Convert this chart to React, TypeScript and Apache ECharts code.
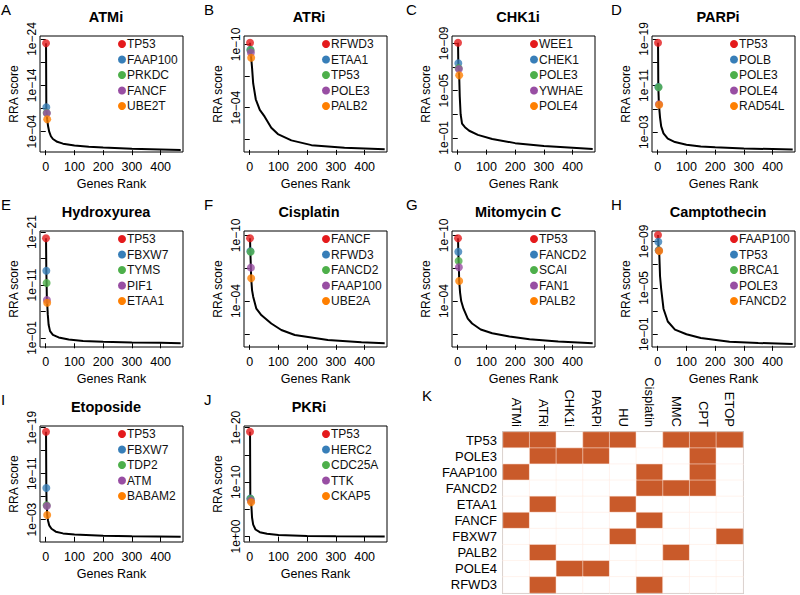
import React, { useEffect, useRef } from "react";
import * as echarts from "echarts";

const SET1 = ["#E41A1C", "#377EB8", "#4DAF4A", "#984EA3", "#FF7F00"];
const FONT = "'Liberation Sans', Arial, Helvetica, sans-serif";

// ---------- A ATMi ----------
const atmiGenes = ["TP53", "FAAP100", "PRKDC", "FANCF", "UBE2T"];
const atmiGeneRanks = [1, 2, 3, 4, 5];
const atmiGeneLog10 = [-23.1, -9.27, -8.05, -7.97, -6.68];
const atmiCurveRanks = [1, 2, 3, 4, 5, 8, 12, 18, 25, 40, 60, 100, 150, 200, 300, 400, 470];
const atmiCurveLog10 = [-23.1, -9.27, -8.05, -7.97, -6.68, -5.2, -4.0, -3.0, -2.4, -1.8, -1.4, -1.0, -0.75, -0.55, -0.3, -0.15, -0.05];
const atmiTicks = [-24, -19, -14, -9, -4];
const atmiLabels = [-24, -14, -4];

// ---------- B ATRi ----------
const atriGenes = ["RFWD3", "ETAA1", "TP53", "POLE3", "PALB2"];
const atriGeneRanks = [1, 2, 3, 4, 5];
const atriGeneLog10 = [-10.16, -9.5, -9.46, -9.24, -8.73];
const atriCurveRanks = [1, 2, 3, 4, 5, 8, 12, 21, 35, 52, 75, 98, 145, 215, 330, 470];
const atriCurveLog10 = [-10.16, -9.5, -9.46, -9.24, -8.73, -7.8, -6.3, -4.8, -3.8, -3.15, -2.1, -1.5, -0.9, -0.45, -0.2, -0.05];
const atriTicks = [-10, -7, -4, -1];
const atriLabels = [-10, -4];

// ---------- C CHK1i ----------
const chk1Genes = ["WEE1", "CHEK1", "POLE3", "YWHAE", "POLE4"];
const chk1GeneRanks = [1, 2, 3, 4, 5];
const chk1GeneLog10 = [-9.05, -7.31, -6.9, -6.83, -6.29];
const chk1CurveRanks = [1, 2, 3, 4, 5, 7, 10, 15, 25, 40, 70, 120, 200, 300, 400, 470];
const chk1CurveLog10 = [-9.05, -7.31, -6.9, -6.83, -6.29, -4.5, -3.0, -2.2, -1.9, -1.6, -1.25, -0.9, -0.55, -0.3, -0.15, -0.05];
const chk1Ticks = [-9, -7, -5, -3, -1];
const chk1Labels = [-9, -5, -1];

// ---------- D PARPi ----------
const parpGenes = ["TP53", "POLB", "POLE3", "POLE4", "RAD54L"];
const parpGeneRanks = [1, 2, 3, 4, 5];
const parpGeneLog10 = [-18.35, -10.75, -10.7, -7.8, -7.72];
const parpCurveRanks = [1, 2, 3, 4, 5, 8, 12, 20, 35, 60, 100, 150, 200, 300, 400, 470];
const parpCurveLog10 = [-18.35, -10.75, -10.7, -7.8, -7.72, -5.5, -4.0, -2.8, -1.9, -1.3, -0.85, -0.55, -0.4, -0.2, -0.1, -0.03];
const parpTicks = [-19, -15, -11, -7, -3];
const parpLabels = [-19, -11, -3];

// ---------- E Hydroxyurea ----------
const huGenes = ["TP53", "FBXW7", "TYMS", "PIF1", "ETAA1"];
const huGeneRanks = [1, 2, 3, 4, 5];
const huGeneLog10 = [-19.82, -13.7, -11.38, -8.17, -7.66];
const huCurveRanks = [1, 2, 3, 4, 5, 7, 10, 15, 25, 45, 80, 130, 200, 300, 400, 470];
const huCurveLog10 = [-19.82, -13.7, -11.38, -8.17, -7.66, -5.5, -3.5, -2.3, -1.6, -1.1, -0.7, -0.45, -0.3, -0.15, -0.08, -0.03];
const huTicks = [-21, -16, -11, -6, -1];
const huLabels = [-21, -11, -1];

// ---------- F Cisplatin ----------
const cisGenes = ["FANCF", "RFWD3", "FANCD2", "FAAP100", "UBE2A"];
const cisGeneRanks = [1, 2, 3, 4, 5];
const cisGeneLog10 = [-9.73, -8.55, -8.51, -7.05, -6.08];
const cisCurveRanks = [1, 2, 3, 4, 5, 8, 12, 23, 41, 75, 110, 157, 272, 389, 470];
const cisCurveLog10 = [-9.73, -8.55, -8.51, -7.05, -6.08, -5.0, -4.4, -3.3, -2.7, -1.95, -1.35, -0.9, -0.45, -0.24, -0.15];
const cisTicks = [-10, -7, -4, -1];
const cisLabels = [-10, -4];

// ---------- G Mitomycin C ----------
const mmcGenes = ["TP53", "FANCD2", "SCAI", "FAN1", "PALB2"];
const mmcGeneRanks = [1, 2, 3, 4, 5];
const mmcGeneLog10 = [-9.73, -8.51, -7.66, -7.08, -5.83];
const mmcCurveRanks = [1, 2, 3, 4, 5, 8, 12, 20, 35, 50, 80, 120, 180, 250, 350, 470];
const mmcCurveLog10 = [-9.73, -8.51, -7.66, -7.08, -5.83, -4.8, -4.0, -3.3, -2.4, -1.95, -1.4, -1.05, -0.75, -0.5, -0.3, -0.15];
const mmcTicks = [-10, -7, -4, -1];
const mmcLabels = [-10, -4];

// ---------- H Camptothecin ----------
const cptGenes = ["FAAP100", "TP53", "BRCA1", "POLE3", "FANCD2"];
const cptGeneRanks = [1, 2, 3, 4, 5];
const cptGeneLog10 = [-9.56, -8.98, -8.25, -8.22, -8.18];
const cptCurveRanks = [1, 2, 3, 4, 5, 8, 12, 20, 35, 60, 100, 150, 250, 350, 470];
const cptCurveLog10 = [-9.56, -8.98, -8.25, -8.22, -8.18, -6.0, -4.9, -3.2, -2.1, -1.4, -1.0, -0.67, -0.35, -0.25, -0.15];
const cptTicks = [-9, -7, -5, -3, -1];
const cptLabels = [-9, -5, -1];

// ---------- I Etoposide ----------
const etoGenes = ["TP53", "FBXW7", "TDP2", "ATM", "BABAM2"];
const etoGeneRanks = [1, 2, 3, 4, 5];
const etoGeneLog10 = [-18.3, -8.5, -5.5, -5.37, -3.8];
const etoCurveRanks = [1, 2, 3, 4, 5, 8, 12, 20, 35, 60, 100, 200, 300, 470];
const etoCurveLog10 = [-18.3, -8.5, -5.5, -5.37, -3.8, -2.8, -2.0, -1.4, -0.9, -0.6, -0.4, -0.2, -0.1, -0.03];
const etoTicks = [-19, -15, -11, -7, -3];
const etoLabels = [-19, -11, -3];

// ---------- J PKRi ----------
const pkrGenes = ["TP53", "HERC2", "CDC25A", "TTK", "CKAP5"];
const pkrGeneRanks = [1, 2, 3, 4, 5];
const pkrGeneLog10 = [-19.25, -7.0, -6.9, -6.6, -6.3];
const pkrCurveRanks = [1, 2, 3, 4, 5, 8, 12, 20, 35, 60, 100, 200, 300, 470];
const pkrCurveLog10 = [-19.25, -7.0, -6.9, -6.6, -6.3, -3.5, -2.2, -1.3, -0.8, -0.5, -0.3, -0.12, -0.06, -0.02];
const pkrTicks = [-20, -15, -10, -5, 0];
const pkrLabels = [-20, -10, 0];

const rankTicks = [0, 100, 200, 300, 400];

// ---------- K heatmap ----------
const treatments = ["ATMi", "ATRi", "CHK1i", "PARPi", "HU", "Cisplatin", "MMC", "CPT", "ETOP"];
const hitGenes = ["TP53", "POLE3", "FAAP100", "FANCD2", "ETAA1", "FANCF", "FBXW7", "PALB2", "POLE4", "RFWD3"];
const hitTP53 = [1, 1, 0, 1, 1, 0, 1, 1, 1];
const hitPOLE3 = [0, 1, 1, 1, 0, 0, 0, 1, 0];
const hitFAAP100 = [1, 0, 0, 0, 0, 1, 0, 1, 0];
const hitFANCD2 = [0, 0, 0, 0, 0, 1, 1, 1, 0];
const hitETAA1 = [0, 1, 0, 0, 1, 0, 0, 0, 0];
const hitFANCF = [1, 0, 0, 0, 0, 1, 0, 0, 0];
const hitFBXW7 = [0, 0, 0, 0, 1, 0, 0, 0, 1];
const hitPALB2 = [0, 1, 0, 0, 0, 0, 1, 0, 0];
const hitPOLE4 = [0, 0, 1, 1, 0, 0, 0, 0, 0];
const hitRFWD3 = [0, 1, 0, 0, 0, 1, 0, 0, 0];
const hitMatrix = [hitTP53, hitPOLE3, hitFAAP100, hitFANCD2, hitETAA1, hitFANCF, hitFBXW7, hitPALB2, hitPOLE4, hitRFWD3];

type Panel = {
  letter: string; title: string; col: number; row: number;
  genes: string[]; geneRanks: number[]; geneLog10: number[];
  curveRanks: number[]; curveLog10: number[];
  ticks: number[]; labels: number[]; yTop: number; yBottom: number;
};

const panels: Panel[] = [
  { letter: "A", title: "ATMi", col: 0, row: 0, genes: atmiGenes, geneRanks: atmiGeneRanks, geneLog10: atmiGeneLog10, curveRanks: atmiCurveRanks, curveLog10: atmiCurveLog10, ticks: atmiTicks, labels: atmiLabels, yTop: -24.65, yBottom: 0.4 },
  { letter: "B", title: "ATRi", col: 1, row: 0, genes: atriGenes, geneRanks: atriGeneRanks, geneLog10: atriGeneLog10, curveRanks: atriCurveRanks, curveLog10: atriCurveLog10, ticks: atriTicks, labels: atriLabels, yTop: -10.8, yBottom: 0.2 },
  { letter: "C", title: "CHK1i", col: 2, row: 0, genes: chk1Genes, geneRanks: chk1GeneRanks, geneLog10: chk1GeneLog10, curveRanks: chk1CurveRanks, curveLog10: chk1CurveLog10, ticks: chk1Ticks, labels: chk1Labels, yTop: -9.62, yBottom: 0.2 },
  { letter: "D", title: "PARPi", col: 3, row: 0, genes: parpGenes, geneRanks: parpGeneRanks, geneLog10: parpGeneLog10, curveRanks: parpCurveRanks, curveLog10: parpCurveLog10, ticks: parpTicks, labels: parpLabels, yTop: -19.5, yBottom: 0.4 },
  { letter: "E", title: "Hydroxyurea", col: 0, row: 1, genes: huGenes, geneRanks: huGeneRanks, geneLog10: huGeneLog10, curveRanks: huCurveRanks, curveLog10: huCurveLog10, ticks: huTicks, labels: huLabels, yTop: -21.2, yBottom: 0.7 },
  { letter: "F", title: "Cisplatin", col: 1, row: 1, genes: cisGenes, geneRanks: cisGeneRanks, geneLog10: cisGeneLog10, curveRanks: cisCurveRanks, curveLog10: cisCurveLog10, ticks: cisTicks, labels: cisLabels, yTop: -10.4, yBottom: 0.2 },
  { letter: "G", title: "Mitomycin C", col: 2, row: 1, genes: mmcGenes, geneRanks: mmcGeneRanks, geneLog10: mmcGeneLog10, curveRanks: mmcCurveRanks, curveLog10: mmcCurveLog10, ticks: mmcTicks, labels: mmcLabels, yTop: -10.4, yBottom: 0.2 },
  { letter: "H", title: "Camptothecin", col: 3, row: 1, genes: cptGenes, geneRanks: cptGeneRanks, geneLog10: cptGeneLog10, curveRanks: cptCurveRanks, curveLog10: cptCurveLog10, ticks: cptTicks, labels: cptLabels, yTop: -9.9, yBottom: 0.1 },
  { letter: "I", title: "Etoposide", col: 0, row: 2, genes: etoGenes, geneRanks: etoGeneRanks, geneLog10: etoGeneLog10, curveRanks: etoCurveRanks, curveLog10: etoCurveLog10, ticks: etoTicks, labels: etoLabels, yTop: -19.3, yBottom: 0.9 },
  { letter: "J", title: "PKRi", col: 1, row: 2, genes: pkrGenes, geneRanks: pkrGeneRanks, geneLog10: pkrGeneLog10, curveRanks: pkrCurveRanks, curveLog10: pkrCurveLog10, ticks: pkrTicks, labels: pkrLabels, yTop: -20.3, yBottom: 1.0 },
];

// layout (pixels)
const COL_LEFT = [40, 244, 452, 652];
const ROW_TOP = [36, 231, 426];
const BOX_W = 143;
const BOX_H = 116;
const LETTER_X = [1, 204, 406, 611];
const TITLE_X = [106, 309, 518, 718];

const fmtExp = (v: number) => {
  const n = Math.round(v);
  const a = Math.abs(n);
  return "1e" + (n < 0 ? "\u2212" : "+") + (a < 10 ? "0" + a : String(a));
};

function buildOption() {
  const grid: any[] = [];
  const xAxis: any[] = [];
  const yAxis: any[] = [];
  const series: any[] = [];
  const graphic: any[] = [];

  panels.forEach((p, i) => {
    const left = COL_LEFT[p.col];
    const top = ROW_TOP[p.row];
    grid.push({ left, top, width: BOX_W, height: BOX_H, show: true, borderColor: "#000", borderWidth: 1, containLabel: false });
    xAxis.push({
      type: "value", gridIndex: i, min: -20, max: 478,
      axisLine: { show: false },
      splitLine: { show: false },
      axisTick: { show: true, length: 5, lineStyle: { color: "#000" }, customValues: rankTicks },
      axisLabel: { color: "#000", fontSize: 12.5, fontFamily: FONT, margin: 8, customValues: rankTicks },
      name: "Genes Rank", nameLocation: "middle", nameGap: 25,
      nameTextStyle: { color: "#000", fontSize: 12.5, fontFamily: FONT },
    });
    yAxis.push({
      type: "value", gridIndex: i, inverse: true, min: p.yTop, max: p.yBottom,
      axisLine: { show: false },
      splitLine: { show: false },
      axisTick: { show: true, length: 5, lineStyle: { color: "#000" }, customValues: p.ticks },
      axisLabel: { color: "#000", fontSize: 12, fontFamily: FONT, rotate: 90, margin: 2, customValues: p.labels, formatter: (v: number) => fmtExp(v) },
      name: "RRA score", nameLocation: "middle", nameGap: 20, nameRotate: 90,
      nameTextStyle: { color: "#000", fontSize: 12, fontFamily: FONT },
    });
    series.push({
      type: "line", xAxisIndex: i, yAxisIndex: i, showSymbol: false, symbol: "none",
      lineStyle: { color: "#000", width: 2 }, z: 2,
      data: p.curveRanks.map((r, k) => [r, p.curveLog10[k]]),
    });
    series.push({
      type: "scatter", xAxisIndex: i, yAxisIndex: i, symbolSize: 8, z: 3,
      data: p.genes.map((g, k) => ({ name: g, value: [p.geneRanks[k], p.geneLog10[k]], itemStyle: { color: SET1[k] } })),
    });

    graphic.push({ type: "text", left: LETTER_X[p.col], top: top - 34, style: { text: p.letter, font: `15px ${FONT}`, fill: "#000" } });
    graphic.push({ type: "text", x: TITLE_X[p.col], y: top - 19, style: { text: p.title, font: `bold 14.5px ${FONT}`, fill: "#000", textAlign: "center", textVerticalAlign: "middle" } });
    p.genes.forEach((g, k) => {
      const ly = top + 8 + k * 15.5;
      graphic.push({ type: "circle", shape: { cx: left + 82, cy: ly, r: 4 }, style: { fill: SET1[k] } });
      graphic.push({ type: "text", x: left + 87, y: ly, style: { text: g, font: `12px ${FONT}`, fill: "#111", textVerticalAlign: "middle" } });
    });
  });

  // heatmap
  const hi = panels.length;
  grid.push({ left: 503, top: 432, width: 240, height: 161, show: true, borderColor: "#9a9a9a", borderWidth: 1.5 });
  xAxis.push({
    type: "category", gridIndex: hi, data: treatments, position: "top",
    axisLine: { show: false }, axisTick: { show: false }, splitLine: { show: false },
    axisLabel: { interval: 0, rotate: 90, color: "#000", fontSize: 13, fontFamily: FONT, margin: 5 },
  });
  yAxis.push({
    type: "category", gridIndex: hi, data: hitGenes, inverse: true,
    axisLine: { show: false }, axisTick: { show: false }, splitLine: { show: false },
    axisLabel: { interval: 0, color: "#000", fontSize: 13, fontFamily: FONT, margin: 6 },
  });
  const heatData: number[][] = [];
  hitMatrix.forEach((row, r) => row.forEach((v, c) => heatData.push([c, r, v])));
  series.push({
    type: "heatmap", xAxisIndex: hi, yAxisIndex: hi, data: heatData,
    itemStyle: { borderColor: "rgba(255,235,225,0.9)", borderWidth: 0.6 },
  });
  graphic.push({ type: "text", left: 422, top: 388, style: { text: "K", font: `15px ${FONT}`, fill: "#000" } });

  return {
    animation: false,
    backgroundColor: "#fff",
    grid, xAxis, yAxis, series, graphic,
    visualMap: {
      show: false, type: "piecewise", seriesIndex: series.length - 1, dimension: 2,
      pieces: [{ value: 0, color: "#ffffff" }, { value: 1, color: "#C95A2A" }],
    },
  };
}

export default function App() {
  const ref = useRef<HTMLDivElement>(null);
  useEffect(() => {
    if (!ref.current) return;
    const chart = echarts.init(ref.current, undefined, { renderer: "svg" });
    chart.setOption(buildOption() as any);
    return () => chart.dispose();
  }, []);
  return <div ref={ref} style={{ position: "fixed", left: 0, top: 0, width: 800, height: 595 }} />;
}
